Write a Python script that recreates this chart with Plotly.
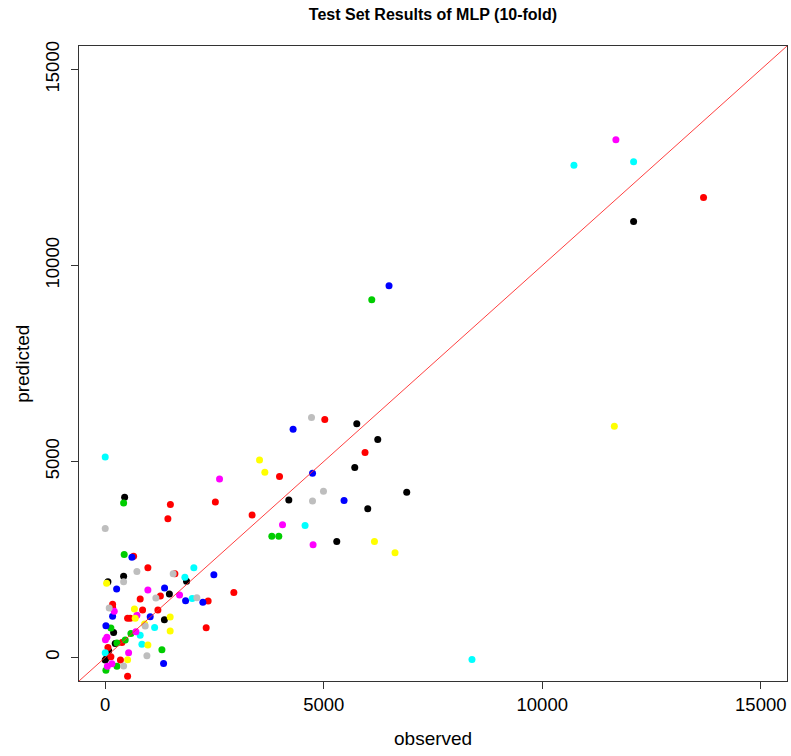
import plotly.graph_objects as go

# Observed / predicted values per fold colour
black_obs = [12090, 5756, 6236, 5710, 4201, 6899, 6007, 5298, 444, 421, 62, 1861, 1468, 1354, 192, 229, 78, 39, 0]
black_pred = [11120, 5960, 5561, 4845, 4016, 4213, 3796, 2960, 4085, 2072, 1929, 1944, 1622, 964, 640, 358, 171, 0, -67]

red_obs = [13690, 5024, 5945, 3988, 2520, 3361, 1491, 1434, 649, 976, 1594, 2943, 1262, 800, 2355, 169, 169, 855, 1205, 512, 572, 2310, 382, 62, 130, 348, 512]
red_pred = [11734, 6073, 5229, 4615, 3965, 3632, 3906, 3540, 2584, 2287, 2133, 1655, 1571, 1494, 1438, 1361, 1279, 1212, 1212, 998, 998, 760, 384, 256, 18, -67, -476]

green_obs = [6099, 3812, 3972, 421, 434, 130, 588, 457, 268, 1297, 268, 16]
green_pred = [9124, 3095, 3095, 3939, 2627, 752, 614, 445, 368, 197, -225, -327]

blue_obs = [6494, 4299, 4743, 5465, 2486, 611, 261, 1358, 1839, 2234, 169, 1029, 16, 1335]
blue_pred = [9483, 5825, 4699, 4008, 2108, 2558, 1750, 1775, 1450, 1407, 1054, 1041, 811, -153]

cyan_obs = [10725, 12090, 8392, 0, 4573, 2028, 1823, 1989, 1130, 800, 839, 0]
cyan_pred = [12560, 12647, -51, 5116, 3369, 2287, 2046, 1502, 767, 568, 338, 120]

magenta_obs = [11685, 2616, 4057, 4756, 976, 1701, 206, 725, 702, 39, 5, 535, 153, 50]
magenta_pred = [13210, 4553, 3387, 2875, 1724, 1596, 1177, 1079, 657, 517, 453, 120, -161, -225]

yellow_obs = [11649, 3531, 3652, 6160, 6631, 32, 668, 686, 1486, 1486, 901, 976, 512]
yellow_pred = [5901, 5039, 4725, 2960, 2671, 1893, 1238, 998, 1033, 675, 854, 317, -59]

gray_obs = [4720, 4994, 4743, 0, 421, 725, 1555, 2097, 1159, 91, 915, 954, 421]
gray_pred = [6124, 4239, 3990, 3292, 1929, 2192, 2133, 1527, 1519, 1264, 803, 43, -220]

series = [
    (black_obs, black_pred, "#000000"),
    (red_obs, red_pred, "#FF0000"),
    (green_obs, green_pred, "#00CD00"),
    (blue_obs, blue_pred, "#0000FF"),
    (cyan_obs, cyan_pred, "#00FFFF"),
    (magenta_obs, magenta_pred, "#FF00FF"),
    (yellow_obs, yellow_pred, "#FFFF00"),
    (gray_obs, gray_pred, "#BEBEBE"),
]

axis_range = [-600, 15600]
tick_vals = [0, 5000, 10000, 15000]
tick_text = ["0", "5000", "10000", "15000"]

fig = go.Figure()
for xs, ys, col in series:
    fig.add_trace(go.Scatter(x=xs, y=ys, mode="markers",
                             marker=dict(color=col, size=7, line=dict(width=0)),
                             showlegend=False))

# identity line (abline(0,1))
fig.add_trace(go.Scatter(x=axis_range, y=axis_range, mode="lines",
                         line=dict(color="#FF2A2A", width=0.9), showlegend=False))

font_family = "Liberation Sans, Arial, sans-serif"
axis_common = dict(range=axis_range, autorange=False, showgrid=False, zeroline=False,
                   showline=True, mirror=True, linecolor="#333333", linewidth=1,
                   ticks="outside", ticklen=7, tickwidth=1, tickcolor="#333333",
                   tickvals=tick_vals, ticktext=tick_text,
                   tickfont=dict(family=font_family, size=18.5, color="#000000"))

fig.update_layout(
    width=791, height=756,
    margin=dict(l=79, r=4, t=46, b=75),
    paper_bgcolor="white", plot_bgcolor="white",
    title=dict(text="<b>Test Set Results of MLP (10-fold)</b>",
               x=0.5, xref="paper", xanchor="center",
               y=1 - 14 / 756, yref="container", yanchor="middle",
               font=dict(family=font_family, size=16, color="#000000")),
    xaxis=dict(**axis_common),
    yaxis=dict(**axis_common, tickangle=-90, ticklabelstandoff=5),
    annotations=[
        dict(text="observed", xref="paper", yref="paper", x=0.5, y=-0.09,
             xanchor="center", yanchor="middle", showarrow=False,
             font=dict(family=font_family, size=19, color="#000000")),
        dict(text="predicted", xref="paper", yref="paper", x=-0.08, y=0.5,
             xanchor="center", yanchor="middle", textangle=-90, showarrow=False,
             font=dict(family=font_family, size=19, color="#000000")),
    ],
)

fig.write_html("out.html")
